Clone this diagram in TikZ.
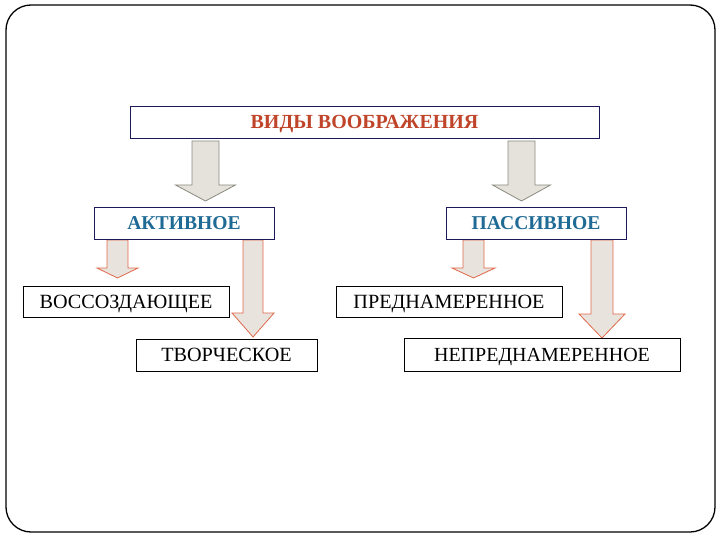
\documentclass[tikz,border=0pt]{standalone}
\usepackage{fontspec}
\setmainfont{Liberation Serif}
\definecolor{titlecol}{HTML}{C0442A}
\definecolor{subcol}{HTML}{1F6B95}
\definecolor{navy}{HTML}{1A1A5A}
\definecolor{grayfill}{HTML}{E4E2DA}
\definecolor{grayline}{HTML}{8A8A80}
\definecolor{orfill}{HTML}{E9E3DE}
\definecolor{orline}{HTML}{E0694A}
\tikzset{
  topbox/.style={draw=navy, line width=0.9pt, fill=white, inner sep=0pt, text depth=0pt},
  lowbox/.style={draw=black, line width=0.9pt, fill=white, inner sep=0pt, text depth=0pt},
  grayarrow/.style={fill=grayfill, draw=grayline, line width=0.8pt, line join=miter},
  orarrow/.style={fill=orfill, draw=orline, line width=0.8pt, line join=miter},
}
% \blockarr{style}{cx}{top}{headstart}{tip}{shafthalf}{headhalf}
\newcommand{\blockarr}[7]{%
  \draw[#1] (#2-#6,#3) -- (#2+#6,#3) -- (#2+#6,#4) -- (#2+#7,#4) -- (#2,#5)
    -- (#2-#7,#4) -- (#2-#6,#4) -- cycle;}
\begin{document}
\begin{tikzpicture}[x=1pt,y=-1pt]
\useasboundingbox (0,0) rectangle (720,540);
\draw[black, line width=1.3pt, rounded corners=25pt] (6,5) rectangle (715,532);

% arrows
\blockarr{grayarrow}{205.5}{141}{185}{201}{13.5}{30}
\blockarr{grayarrow}{521.5}{141}{185}{201}{13.5}{29}
\blockarr{orarrow}{117.5}{240}{268}{278}{10.5}{20.5}
\blockarr{orarrow}{473.5}{240}{268}{278}{10.5}{21.5}
\blockarr{orarrow}{253}{240}{313}{337}{10}{21}
\blockarr{orarrow}{602}{240}{314}{338}{11}{23}

% boxes
\node[topbox, minimum width=469pt, minimum height=32pt] (title) at (364.5,122)
  {\fontsize{20}{22}\selectfont\bfseries\color{titlecol}ВИДЫ ВООБРАЖЕНИЯ};
\node[topbox, minimum width=180pt, minimum height=32pt] (act) at (184,223)
  {\fontsize{19.6}{22}\selectfont\bfseries\color{subcol}АКТИВНОЕ};
\node[topbox, minimum width=180pt, minimum height=32pt] (pas) at (536,223)
  {\fontsize{19.6}{22}\selectfont\bfseries\color{subcol}ПАССИВНОЕ};
\node[lowbox, minimum width=206pt, minimum height=31pt] (vos) at (126,301.5)
  {\fontsize{20.2}{22}\selectfont ВОССОЗДАЮЩЕЕ};
\node[lowbox, minimum width=181pt, minimum height=32pt] (tvo) at (226.5,355)
  {\fontsize{20.2}{22}\selectfont ТВОРЧЕСКОЕ};
\node[lowbox, minimum width=226pt, minimum height=31pt] (pre) at (449,301.5)
  {\fontsize{20.2}{22}\selectfont ПРЕДНАМЕРЕННОЕ};
\node[lowbox, minimum width=276pt, minimum height=33pt] (nep) at (542,354.5)
  {\fontsize{20}{22}\selectfont НЕПРЕДНАМЕРЕННОЕ};
\end{tikzpicture}
\end{document}
